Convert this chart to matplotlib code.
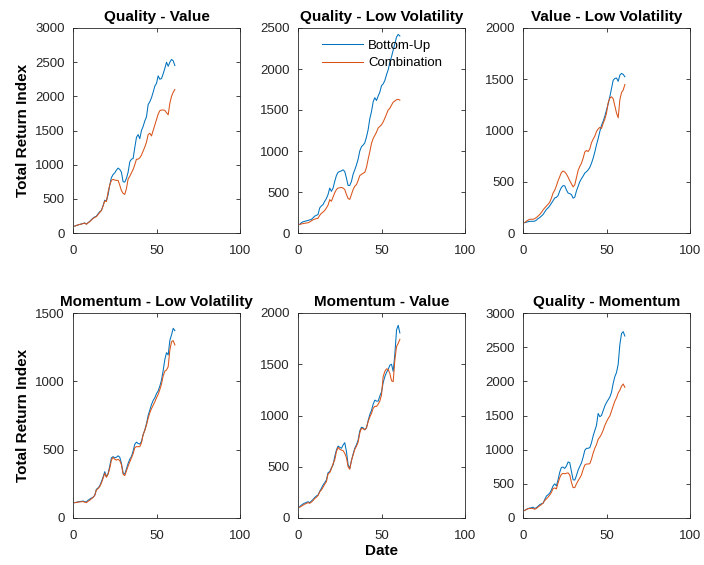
import numpy as np
import matplotlib
matplotlib.use("Agg")
import matplotlib.pyplot as plt

plt.rcParams['font.family'] = ['Liberation Sans', 'DejaVu Sans']

# date index
dates = np.arange(1, 62)

titles = ["Quality - Value", "Quality - Low Volatility", "Value - Low Volatility",
          "Momentum - Low Volatility", "Momentum - Value", "Quality - Momentum"]

# Bottom-Up series
bu_qv = [100, 110, 118, 125, 132, 140, 147, 130, 150, 170,
         195, 218, 235, 245, 280, 310, 330, 400, 480, 470,
         560, 700, 810, 855, 880, 920, 950, 930, 890, 750,
         745, 800, 890, 1040, 1080, 1090, 1250, 1400, 1440, 1380,
         1500, 1560, 1640, 1700, 1880, 1920, 1980, 2060, 2150, 2190,
         2300, 2250, 2260, 2330, 2410, 2500, 2440, 2500, 2540, 2520,
         2450]
bu_qlv = [105, 125, 137, 142, 148, 153, 160, 165, 185, 206,
          215, 226, 306, 330, 347, 387, 420, 470, 548, 508,
          548, 629, 701, 741, 750, 758, 770, 750, 669, 580,
          580, 629, 717, 770, 830, 900, 1000, 1052, 1072, 1100,
          1170, 1260, 1394, 1480, 1600, 1650, 1616, 1670, 1717, 1797,
          1818, 1860, 1930, 1990, 2080, 2150, 2230, 2310, 2390, 2422,
          2402]
bu_vlv = [101, 105, 110, 114, 114, 114, 116, 125, 140, 150,
          165, 180, 205, 230, 245, 265, 290, 315, 342, 348,
          365, 410, 445, 462, 460, 420, 390, 384, 375, 340,
          350, 410, 455, 500, 530, 555, 585, 598, 615, 640,
          680, 730, 790, 860, 920, 990, 1050, 1090, 1140, 1200,
          1260, 1330, 1410, 1490, 1508, 1512, 1480, 1540, 1557, 1547,
          1524]
bu_mlv = [112, 115, 118, 120, 122, 124, 120, 117, 130, 138,
          146, 152, 165, 210, 220, 235, 265, 300, 339, 302,
          325, 380, 440, 449, 440, 445, 455, 445, 400, 330,
          320, 360, 400, 430, 450, 490, 540, 555, 545, 541,
          560, 610, 645, 690, 750, 790, 830, 860, 880, 910,
          930, 965, 1010, 1080, 1160, 1210, 1193, 1300, 1340, 1388,
          1371]
bu_mv = [111, 125, 137, 145, 152, 159, 150, 165, 180, 200,
         215, 224, 260, 289, 322, 345, 371, 442, 452, 490,
         517, 600, 663, 702, 690, 680, 712, 735, 650, 520,
         485, 560, 624, 680, 715, 760, 850, 885, 880, 860,
         880, 950, 1010, 1050, 1110, 1150, 1140, 1140, 1190, 1230,
         1320, 1380, 1420, 1450, 1490, 1500, 1430, 1600, 1834, 1880,
         1805]
bu_qm = [110, 125, 138, 145, 150, 158, 140, 150, 172, 195,
         208, 215, 270, 320, 340, 365, 410, 470, 500, 470,
         560, 670, 740, 745, 725, 760, 820, 810, 680, 560,
         555, 620, 700, 755, 805, 890, 990, 1020, 1020, 1030,
         1100, 1200, 1280, 1355, 1530, 1483, 1500, 1570, 1640, 1690,
         1730, 1770, 1840, 1970, 2070, 2130, 2250, 2540, 2700, 2727,
         2663]

# Combination series
cb_qv = [100, 110, 118, 125, 130, 138, 145, 128, 148, 165,
         190, 212, 228, 240, 270, 300, 330, 395, 470, 460,
         600, 700, 770, 785, 775, 770, 770, 700, 620, 580,
         565, 650, 790, 830, 880, 930, 1000, 1080, 1080, 1100,
         1140, 1200, 1260, 1330, 1440, 1460, 1420, 1500, 1580, 1660,
         1740, 1790, 1800, 1800, 1795, 1760, 1730, 1900, 2000, 2060,
         2100]
cb_qlv = [105, 110, 115, 118, 122, 125, 135, 148, 160, 170,
          175, 180, 215, 240, 255, 275, 305, 340, 407, 387,
          440, 490, 530, 548, 552, 556, 548, 530, 470, 420,
          410, 470, 530, 570, 590, 640, 700, 715, 729, 740,
          800, 900, 991, 1092, 1153, 1190, 1230, 1280, 1300, 1320,
          1354, 1400, 1450, 1500, 1520, 1560, 1596, 1610, 1625, 1630,
          1620]
cb_vlv = [101, 115, 125, 134, 134, 134, 140, 150, 165, 180,
          200, 225, 245, 262, 280, 300, 340, 390, 417, 460,
          510, 550, 590, 605, 595, 575, 545, 510, 480, 450,
          470, 540, 610, 650, 680, 730, 790, 805, 795, 820,
          880, 915, 945, 990, 1015, 1030, 1020, 1070, 1110, 1170,
          1270, 1315, 1329, 1310, 1240, 1170, 1124, 1300, 1371, 1394,
          1449]
cb_mlv = [112, 114, 116, 118, 119, 120, 116, 112, 122, 130,
          140, 150, 165, 205, 215, 230, 255, 290, 327, 298,
          320, 363, 424, 444, 430, 424, 429, 420, 390, 320,
          310, 345, 380, 410, 440, 470, 515, 522, 522, 522,
          550, 610, 640, 680, 730, 770, 800, 825, 850, 880,
          905, 940, 980, 1040, 1075, 1083, 1107, 1229, 1290, 1298,
          1266]
cb_mv = [104, 115, 125, 135, 142, 150, 143, 155, 170, 190,
         202, 220, 255, 273, 300, 330, 354, 429, 442, 480,
         530, 566, 647, 689, 670, 663, 657, 631, 590, 500,
         475, 560, 615, 670, 700, 740, 830, 875, 870, 862,
         880, 940, 985, 1020, 1070, 1090, 1088, 1110, 1140, 1200,
         1380, 1430, 1455, 1450, 1410, 1340, 1330, 1541, 1672, 1704,
         1743]
cb_qm = [110, 125, 135, 140, 141, 138, 128, 140, 160, 180,
         195, 220, 255, 280, 305, 335, 375, 430, 440, 425,
         515, 590, 640, 653, 647, 655, 660, 630, 520, 445,
         445, 500, 545, 585, 630, 710, 775, 790, 790, 795,
         860, 950, 1020, 1075, 1150, 1185, 1225, 1285, 1355, 1410,
         1455, 1495, 1565, 1640, 1710, 1760, 1830, 1870, 1930, 1961,
         1912]

bottom_up = [bu_qv, bu_qlv, bu_vlv, bu_mlv, bu_mv, bu_qm]
combination = [cb_qv, cb_qlv, cb_vlv, cb_mlv, cb_mv, cb_qm]
ymax = [3000, 2500, 2000, 1500, 2000, 3000]

blue = '#0072BD'
orange = '#D95319'
edge = '#262626'

fig = plt.figure(figsize=(7.04, 5.65), dpi=100)
lefts = [73/704, 298/704, 523/704]
bottoms = [1 - 233/565, 1 - 518/565]
w = 167/704
h = 205/565

for k in range(6):
    r, c = divmod(k, 3)
    ax = fig.add_axes([lefts[c], bottoms[r], w, h])
    ax.plot(dates, bottom_up[k], color=blue, lw=0.75, label='Bottom-Up')
    ax.plot(dates, combination[k], color=orange, lw=0.75, label='Combination')
    ax.set_xlim(0, 100)
    ax.set_ylim(0, ymax[k])
    ax.set_xticks([0, 50, 100])
    ax.set_yticks(np.arange(0, ymax[k] + 1, 500))
    ax.tick_params(direction='in', top=True, right=True, labelsize=9.5,
                   length=3, width=0.6, colors=edge)
    ax.tick_params(axis='x', pad=8.5)
    ax.tick_params(axis='y', pad=6)
    for s in ax.spines.values():
        s.set_linewidth(0.6)
        s.set_color(edge)
    ax.set_title(titles[k], fontsize=11, fontweight='bold', pad=5)
    if c == 0:
        ax.set_ylabel('Total Return Index', fontsize=11, fontweight='bold')
        ax.yaxis.set_label_coords(-0.255, 0.5)
    if k == 4:
        ax.set_xlabel('Date', fontsize=11, fontweight='bold')
        ax.xaxis.set_label_coords(0.5, -0.125)
    if k == 1:
        ax.legend(loc='upper left', bbox_to_anchor=(0.08, 0.995), frameon=False,
                  fontsize=9.5, handlelength=3.1, handletextpad=0.4,
                  labelspacing=0.4, borderpad=0.3)

fig.savefig('out.png', dpi=100)
